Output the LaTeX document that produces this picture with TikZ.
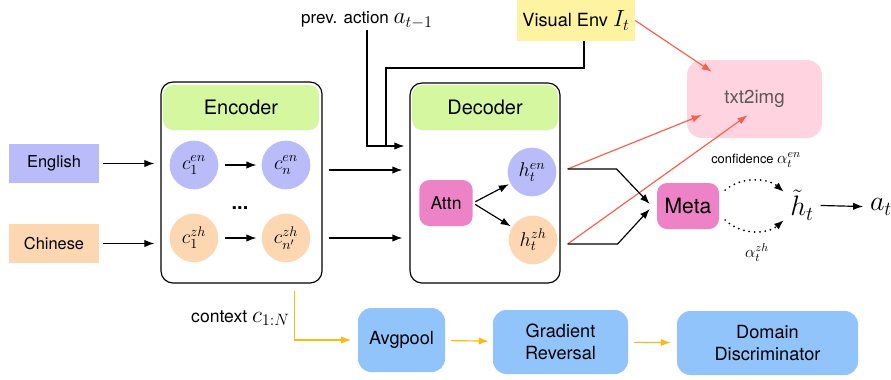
\RequirePackage{fix-cm}
\documentclass[tikz,border=0pt]{standalone}
\usepackage{fontspec}
\setmainfont{TeX Gyre Heros}
\usepackage{amsmath}
\usetikzlibrary{calc,positioning,arrows.meta}

\definecolor{colen}{RGB}{185,188,249}
\definecolor{colzh}{RGB}{253,214,178}
\definecolor{colhead}{RGB}{213,247,160}
\definecolor{colop}{RGB}{238,130,198}
\definecolor{colenv}{RGB}{253,243,161}
\definecolor{colimg}{RGB}{255,211,224}
\definecolor{colblue}{RGB}{146,196,252}
\definecolor{colred}{RGB}{250,95,75}
\definecolor{colctx}{RGB}{250,185,20}

\newcommand{\bigmath}[1]{{\fontsize{20}{22}\selectfont$#1$}}

\begin{document}
\begin{tikzpicture}[x=0.03cm,y=-0.03cm,
    lang/.style={minimum width=2.7cm,minimum height=1.17cm,inner sep=0pt,font=\fontsize{14}{16}\selectfont},
    frame/.style={draw,line width=1pt,rounded corners=0.36cm,minimum height=6cm},
    head/.style={fill=colhead,rounded corners=0.3cm,minimum height=1.35cm,font=\fontsize{17}{20}\selectfont},
    state/.style={circle,minimum size=1.46cm,inner sep=0pt,font=\fontsize{17}{20}\selectfont},
    op/.style={fill=colop,rounded corners=0.3cm,minimum height=1.38cm,font=\fontsize{15}{18}\selectfont},
    task/.style={fill=colblue,rounded corners=0.4cm,minimum height=1.92cm,align=center,font=\fontsize{15.5}{19}\selectfont},
    arr/.style={-{Latex[length=0.3cm,width=0.22cm]},line width=1pt},
    redarr/.style={-{Latex[length=0.3cm,width=0.22cm]},line width=1pt,colred},
    ctxarr/.style={-{Latex[length=0.3cm,width=0.22cm]},line width=1pt,colctx},
    dotarr/.style={-{Latex[length=0.3cm,width=0.22cm]},line width=1.7pt,line cap=round,dash pattern=on 0pt off 4.6pt}]
\useasboundingbox (0,0) rectangle (891,379);

% inputs
\node[lang,fill=colen] (eng) at (54,163.5) {English};
\node[lang,fill=colzh] (chn) at (54,243.5) {Chinese};

% encoder
\node[frame,minimum width=4.83cm,minimum height=6.03cm] (enc) at (241.5,182.5) {};
\node[head,minimum width=4.68cm] (enchead) at (241,107.5) {Encoder};
\node[state,fill=colen] (c1en) at (194,165) {$c_1^{en}$};
\node[state,fill=colen] (cnen) at (286,165) {$c_n^{en}$};
\node[state,fill=colzh] (c1zh) at (194,238) {$c_1^{zh}$};
\node[state,fill=colzh] (cnzh) at (286,238) {$c_{n'}^{zh}$};
\node[font=\bfseries\fontsize{17}{20}\selectfont] (dots) at (240,208) {...};
\draw[arr,shorten <=0.2cm,shorten >=0.15cm] (c1en) -- (cnen);
\draw[arr,shorten <=0.2cm,shorten >=0.15cm] (c1zh) -- (cnzh);
\draw[arr,shorten <=0.12cm,shorten >=0.18cm] (eng) -- (eng -| enc.west);
\draw[arr,shorten <=0.12cm,shorten >=0.18cm] (chn) -- (chn -| enc.west);

% decoder
\node[frame,minimum width=4.5cm] (dec) at (485,183) {};
\node[head,minimum width=4.38cm] (dechead) at (485,107.5) {Decoder};
\node[op,minimum width=1.6cm] (attn) at (446,203) {Attn};
\node[state,fill=colen] (hen) at (532,172) {$h_t^{en}$};
\node[state,fill=colzh] (hzh) at (533,240) {$h_t^{zh}$};
\draw[arr,shorten <=0.08cm,shorten >=0.05cm] (attn.east) -- (hen);
\draw[arr,shorten <=0.08cm,shorten >=0.05cm] (attn.east) -- (hzh);
\draw[arr] ($(enc.east |- cnen)+(6,5)$) -- ($(dec.west |- cnen)+(-7,5)$);
\draw[arr] ($(enc.east |- cnzh)+(6,0)$) -- ($(dec.west |- cnzh)+(-7,0)$);

% previous action and visual input
\node[font=\fontsize{14.5}{17}\selectfont,inner sep=1pt] (prev) at (367,20) {prev. action \bigmath{a_{t-1}}};
\node[fill=colenv,minimum width=3.54cm,minimum height=1.23cm,font=\fontsize{15.5}{18}\selectfont] (venv) at (576,20.5) {Visual Env \bigmath{I_t}};
\coordinate (decin) at ($(dec.west)+(-5,-37)$);
\coordinate (bend) at (386,68);
\draw[arr] (prev.south) |- (decin);
\draw[line width=1pt] ($(venv.south)+(8,0)$) |- (bend) -- (bend |- decin);

% txt2img
\node[fill=colimg,rounded corners=0.45cm,minimum width=4.05cm,minimum height=2.34cm,text=black!65,font=\fontsize{16}{19}\selectfont] (t2i) at (754.5,99) {txt2img};
\coordinate (henout) at ($(dec.east |- hen)+(7,-3)$);
\coordinate (hzhout) at ($(dec.east |- hzh)+(7,4)$);
\draw[redarr] (venv.east) -- ($(t2i.north west)+(25,12)$);
\draw[redarr] (henout) -- ($(t2i.west)+(15,16)$);
\draw[redarr] (hzhout) -- ($(t2i.south)+(-7,-23)$);

% meta
\node[op,minimum width=1.86cm,font=\fontsize{18}{21}\selectfont] (meta) at (688,206) {Meta};
\draw[arr] (henout) -- ++(49,0) -- ($(meta.west)+(-7,-2)$);
\draw[arr] (hzhout) -- ++(50,0) -- ($(meta.west)+(-7,3)$);

\node[font=\fontsize{24}{26}\selectfont,inner sep=0pt] (htil) at (802,205) {$\tilde{h}_t$};
\node[font=\fontsize{24}{26}\selectfont,inner sep=0pt] (at) at (881,207) {$a_t$};
\coordinate (tipen) at (784,192);
\coordinate (tipzh) at (784,220);
\draw[dotarr] ($(meta.east)+(6,-16)$) .. controls (742,176) and (768,178) .. (tipen);
\draw[dotarr] ($(meta.east)+(6,14)$) .. controls (742,236) and (768,234) .. (tipzh);
\node[font=\fontsize{11}{13}\selectfont,inner sep=0pt] (conf) at (756,160) {confidence {\fontsize{14}{16}\selectfont$\alpha_t^{en}$}};
\node[font=\fontsize{14}{16}\selectfont,inner sep=0pt] (azh) at (757,253) {$\alpha_t^{zh}$};
\draw[arr,shorten <=0.2cm,shorten >=0.2cm] (htil) -- (at);

% domain adversarial branch
\node[task,minimum width=2.61cm] (avg) at (401.5,340) {Avgpool};
\node[task,minimum width=4.05cm] (grad) at (560.5,342) {Gradient\\Reversal};
\node[task,minimum width=5.43cm] (disc) at (767.5,343) {Domain\\Discriminator};
\coordinate (ctx) at ($(enc.south)+(53,7)$);
\draw[ctxarr,shorten >=0.2cm] (ctx) |- (avg.west);
\node[anchor=east,font=\fontsize{15}{18}\selectfont,inner sep=1pt] (ctxlab) at (291,318) {context \bigmath{c_{1:N}}};
\draw[ctxarr,shorten <=0.18cm,shorten >=0.12cm] (avg) -- (grad);
\draw[ctxarr,shorten <=0.18cm,shorten >=0.18cm] (grad) -- (disc);
\end{tikzpicture}
\end{document}
